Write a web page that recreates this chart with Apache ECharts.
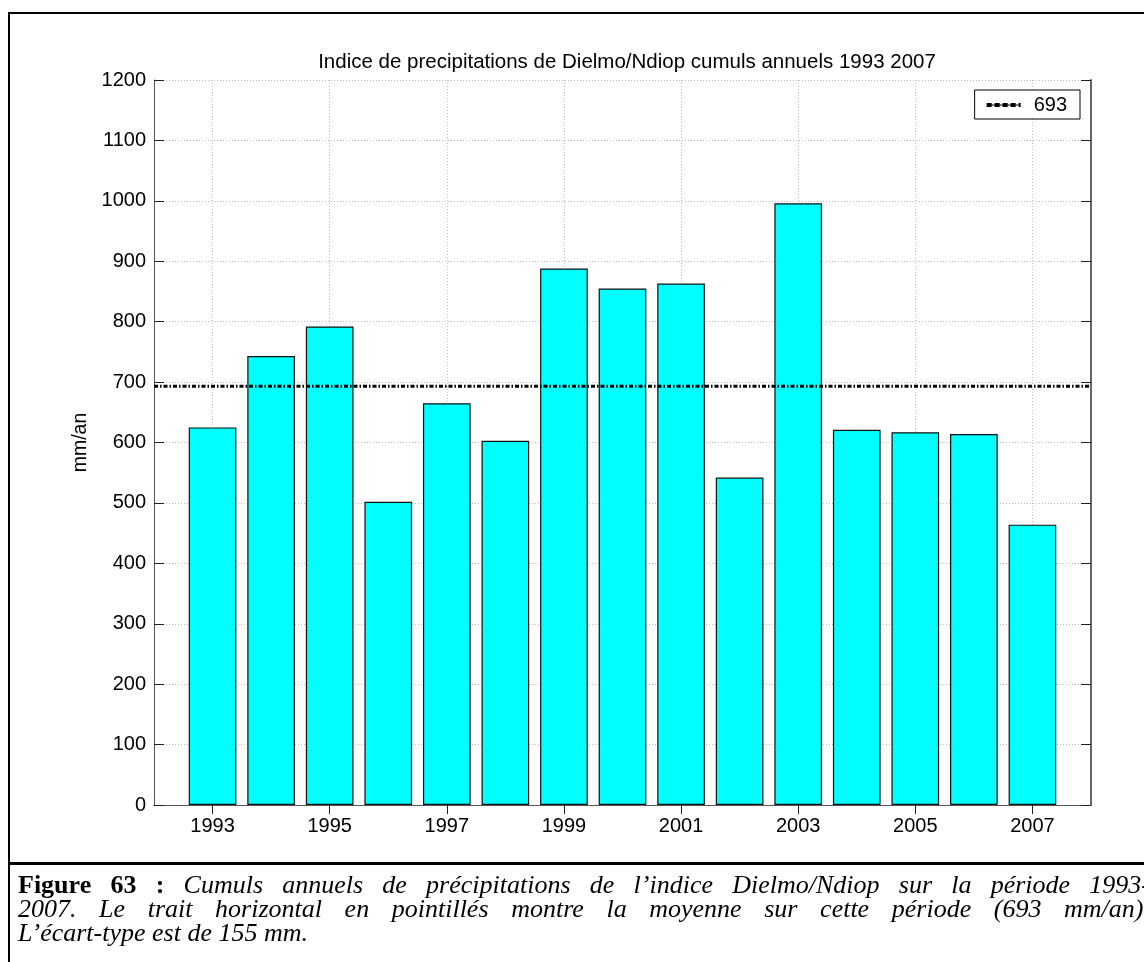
<!DOCTYPE html>
<html>
<head>
<meta charset="utf-8">
<script src="https://cdn.jsdelivr.net/npm/echarts@6/dist/echarts.min.js"></script>
<style>
  html, body { margin: 0; padding: 0; width: 1144px; height: 962px; overflow: hidden; background: #fff; }
  #chart { position: absolute; left: 0; top: 0; width: 1144px; height: 962px; }
  .frame { position: absolute; left: 8px; top: 12px; width: 1160px; height: 1000px; border: 2px solid #000; box-sizing: border-box; pointer-events: none; }
  .sep { position: absolute; left: 8px; top: 862px; width: 1160px; height: 3px; background: #000; }
  .caption { position: absolute; left: 18px; top: 873px; width: 1132px; font-family: "Liberation Serif", "Times New Roman", serif; font-size: 26px; line-height: 24px; color: #000; }
  .caption .j { text-align: justify; text-align-last: justify; white-space: nowrap; }
  .caption b { font-style: normal; }
  .caption i { font-style: italic; }
</style>
</head>
<body>
<div id="chart"></div>
<div class="frame"></div>
<div class="sep"></div>
<div class="caption">
  <div class="j"><b>Figure 63 :</b> <i>Cumuls annuels de précipitations de l’indice Dielmo/Ndiop sur la période 1993-</i></div>
  <div class="j"><i>2007. Le trait horizontal en pointillés montre la moyenne sur cette période (693 mm/an).</i></div>
  <div><i>L’écart-type est de 155 mm.</i></div>
</div>
<script>
// Annual rainfall totals of the Dielmo/Ndiop index
const years = ['1993', '1994', '1995', '1996', '1997', '1998', '1999', '2000',
               '2001', '2002', '2003', '2004', '2005', '2006', '2007'];
const rainfall = [625, 743, 792, 502, 665, 603, 888, 855, 863, 542, 996, 621, 617, 614, 464];
const meanRain = 693;
const yTicks = { min: 0, max: 1200, step: 100 };
const titleText = 'Indice de precipitations de Dielmo/Ndiop cumuls annuels 1993 2007';
const yName = 'mm/an';

// The axis runs from one year before the first to one year after the last
const axisCats = [''].concat(years, ['']);
const barData = [null].concat(rainfall, [null]);
const meanData = axisCats.map(() => meanRain);

const oddYear = (idx) => idx % 2 === 1;
const font = '"Liberation Sans", Arial, sans-serif';
const gridDots = { color: '#bcbcbc', width: 1, type: [1, 2] };

// Legend key: a row of short black dashes
const dashIcon = 'path://M0,0h5v4h-5z M8,0h5v4h-5z M16,0h5v4h-5z M24,0h5v4h-5z M32,0h2v4h-2z M5,1.5h3v1h-3z M13,1.5h3v1h-3z M21,1.5h3v1h-3z M29,1.5h3v1h-3z';

const chart = echarts.init(document.getElementById('chart'), null, { renderer: 'canvas' });
chart.setOption({
  backgroundColor: 'transparent',
  animation: false,
  title: {
    text: titleText,
    left: 622, textAlign: 'center',
    top: 47,
    textStyle: { fontFamily: font, fontSize: 20.5, fontWeight: 'normal', color: '#000' }
  },
  legend: {
    data: [{ name: String(meanRain), icon: dashIcon }],
    right: 64, top: 90,
    orient: 'vertical',
    padding: [5, 13, 4, 12],
    borderColor: '#000', borderWidth: 1,
    backgroundColor: '#fff',
    itemWidth: 34, itemHeight: 5,
    itemStyle: { color: '#000' },
    textStyle: { fontFamily: font, fontSize: 20, color: '#000', padding: [0, 0, 0, 8] }
  },
  grid: { left: 154, right: 53, top: 80, bottom: 157, containLabel: false },
  xAxis: [{
    type: 'category', data: axisCats, boundaryGap: false, position: 'bottom',
    axisLine: { lineStyle: { color: '#555', width: 1 } },
    axisTick: { inside: true, length: 9, interval: oddYear, lineStyle: { color: '#222' } },
    axisLabel: { interval: oddYear, margin: 11, fontFamily: font, fontSize: 20, color: '#000' },
    splitLine: { show: true, interval: oddYear, lineStyle: gridDots }
  }, {
    type: 'category', data: axisCats, boundaryGap: false, position: 'top',
    axisLine: { lineStyle: { color: '#555', width: 1 } },
    axisTick: { inside: true, length: 9, interval: oddYear, lineStyle: { color: '#222' } },
    axisLabel: { show: false },
    splitLine: { show: false }
  }],
  yAxis: [{
    type: 'value', min: yTicks.min, max: yTicks.max, interval: yTicks.step, position: 'left',
    name: yName, nameLocation: 'middle', nameGap: 62, nameRotate: 90,
    nameTextStyle: { fontFamily: font, fontSize: 19.5, color: '#000' },
    axisLine: { show: true, lineStyle: { color: '#555', width: 1 } },
    axisTick: { show: true, inside: true, length: 10, lineStyle: { color: '#222' } },
    axisLabel: { margin: 8, fontFamily: font, fontSize: 20, color: '#000', formatter: (v) => String(v) },
    splitLine: { show: true, lineStyle: gridDots }
  }, {
    type: 'value', min: yTicks.min, max: yTicks.max, interval: yTicks.step, position: 'right',
    axisLine: { show: true, lineStyle: { color: '#666', width: 2 } },
    axisTick: { show: true, inside: true, length: 10, lineStyle: { color: '#222' } },
    axisLabel: { show: false },
    splitLine: { show: false }
  }],
  series: [{
    type: 'bar',
    data: barData,
    xAxisIndex: 0, yAxisIndex: 0,
    barWidth: '81.4%',
    itemStyle: { color: '#00ffff', borderColor: '#111', borderWidth: 1.2 },
    z: 2
  }, {
    name: String(meanRain),
    type: 'line',
    data: meanData,
    xAxisIndex: 0, yAxisIndex: 0,
    symbol: 'none', showSymbol: false,
    itemStyle: { color: '#000' },
    lineStyle: { color: '#000', width: 3, type: [4, 2, 1.5, 2] },
    z: 5
  }]
});
</script>
</body>
</html>
